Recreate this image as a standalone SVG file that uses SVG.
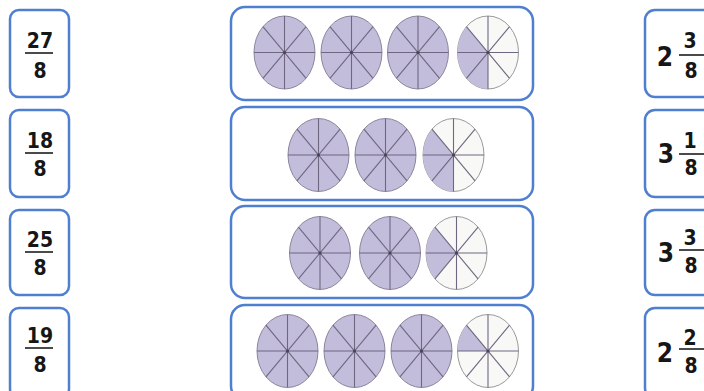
<svg xmlns="http://www.w3.org/2000/svg" xmlns:xlink="http://www.w3.org/1999/xlink" width="704" height="391" viewBox="0 0 704 391">
<style>
.box{fill:#fff;stroke:#4f7fd0;stroke-width:2.5}
.full{fill:#c3bddc;stroke:#8c849c;stroke-width:1}
.empty{fill:#f8f8f6;stroke:#9a9a9a;stroke-width:1}
.shade{fill:#c3bddc;stroke:none}
.spk{stroke:#6f6780;stroke-width:1.1;fill:none}
.dot{fill:#4a4458}
.t{font-family:"DejaVu Sans Condensed","DejaVu Sans",sans-serif;font-stretch:condensed;font-weight:bold;fill:#161616;text-anchor:middle}
.n{font-size:21px}
.w{font-size:26px}
.bar{stroke:#4a4a4a;stroke-width:2}
</style>
<defs>
<g id="spokes">
<line class="spk" x1="0" y1="-36.5" x2="0" y2="36.5"/>
<line class="spk" x1="-30.5" y1="0" x2="30.5" y2="0"/>
<line class="spk" x1="-21.57" y1="-25.81" x2="21.57" y2="25.81"/>
<line class="spk" x1="21.57" y1="-25.81" x2="-21.57" y2="25.81"/>
<circle class="dot" r="1.6"/>
</g>
<g id="pie">
<ellipse class="full" rx="30.5" ry="36.5"/>
<use xlink:href="#spokes"/>
</g>
</defs>

<g id="left-boxes">
<g id="l1"><rect class="box" x="10" y="10" width="59" height="87" rx="9"/>
<text class="t n" x="40" y="48">27</text><line class="bar" x1="25" y1="53" x2="53" y2="53"/><text class="t n" x="40" y="78">8</text></g>
<g id="l2"><rect class="box" x="10" y="110" width="59" height="87" rx="9"/>
<text class="t n" x="40" y="148">18</text><line class="bar" x1="25" y1="153" x2="53" y2="153"/><text class="t n" x="40" y="176">8</text></g>
<g id="l3"><rect class="box" x="10" y="210" width="59" height="85" rx="9"/>
<text class="t n" x="40" y="247">25</text><line class="bar" x1="25" y1="252" x2="53" y2="252"/><text class="t n" x="40" y="275">8</text></g>
<g id="l4"><rect class="box" x="10" y="308" width="59" height="90" rx="9"/>
<text class="t n" x="40" y="343">19</text><line class="bar" x1="25" y1="348" x2="53" y2="348"/><text class="t n" x="40" y="372">8</text></g>
</g>

<g id="middle-boxes">
<g id="m1"><rect class="box" x="231" y="7" width="302" height="93" rx="14"/>
<use xlink:href="#pie" x="284.5" y="52.5"/>
<use xlink:href="#pie" x="351.5" y="52.5"/>
<use xlink:href="#pie" x="418" y="52.5"/>
<g transform="translate(488 52.5)"><ellipse class="empty" rx="30.5" ry="36.5"/><path class="shade" d="M0,0 L-21.57,-25.81 A30.5,36.5 0 0 0 0,36.5 Z"/><use xlink:href="#spokes"/></g>
</g>
<g id="m2"><rect class="box" x="231" y="107" width="302" height="93" rx="14"/>
<use xlink:href="#pie" x="318.5" y="155"/>
<use xlink:href="#pie" x="385.5" y="155"/>
<g transform="translate(453.5 155)"><ellipse class="empty" rx="30.5" ry="36.5"/><path class="shade" d="M0,0 L-21.57,-25.81 A30.5,36.5 0 0 0 0,36.5 Z"/><use xlink:href="#spokes"/></g>
</g>
<g id="m3"><rect class="box" x="231" y="206" width="302" height="92" rx="14"/>
<use xlink:href="#pie" x="320" y="253"/>
<use xlink:href="#pie" x="390" y="253"/>
<g transform="translate(456.5 253)"><ellipse class="empty" rx="30.5" ry="36.5"/><path class="shade" d="M0,0 L-21.57,-25.81 A30.5,36.5 0 0 0 -21.57,25.81 Z"/><use xlink:href="#spokes"/></g>
</g>
<g id="m4"><rect class="box" x="231" y="305" width="302" height="95" rx="14"/>
<use xlink:href="#pie" x="287.5" y="351"/>
<use xlink:href="#pie" x="354.5" y="351"/>
<use xlink:href="#pie" x="421.5" y="351"/>
<g transform="translate(488 351)"><ellipse class="empty" rx="30.5" ry="36.5"/><path class="shade" d="M0,0 L-21.57,-25.81 A30.5,36.5 0 0 0 -30.5,0 Z"/><use xlink:href="#spokes"/></g>
</g>
</g>

<g id="right-boxes">
<g id="r1"><rect class="box" x="645" y="10" width="80" height="87" rx="10"/>
<text class="t w" x="665" y="66">2</text><text class="t n" x="690" y="48">3</text><line class="bar" x1="679" y1="55" x2="706" y2="55"/><text class="t n" x="691" y="78">8</text></g>
<g id="r2"><rect class="box" x="645" y="110" width="80" height="87" rx="10"/>
<text class="t w" x="666" y="163">3</text><text class="t n" x="690" y="148">1</text><line class="bar" x1="679" y1="154" x2="706" y2="154"/><text class="t n" x="691" y="175">8</text></g>
<g id="r3"><rect class="box" x="645" y="210" width="80" height="85" rx="10"/>
<text class="t w" x="666" y="262">3</text><text class="t n" x="690" y="245">3</text><line class="bar" x1="679" y1="250" x2="706" y2="250"/><text class="t n" x="691" y="273">8</text></g>
<g id="r4"><rect class="box" x="645" y="308" width="80" height="90" rx="10"/>
<text class="t w" x="665" y="362">2</text><text class="t n" x="690" y="345">2</text><line class="bar" x1="679" y1="349" x2="706" y2="349"/><text class="t n" x="691" y="373">8</text></g>
</g>
<g id="connectors"/>
</svg>
